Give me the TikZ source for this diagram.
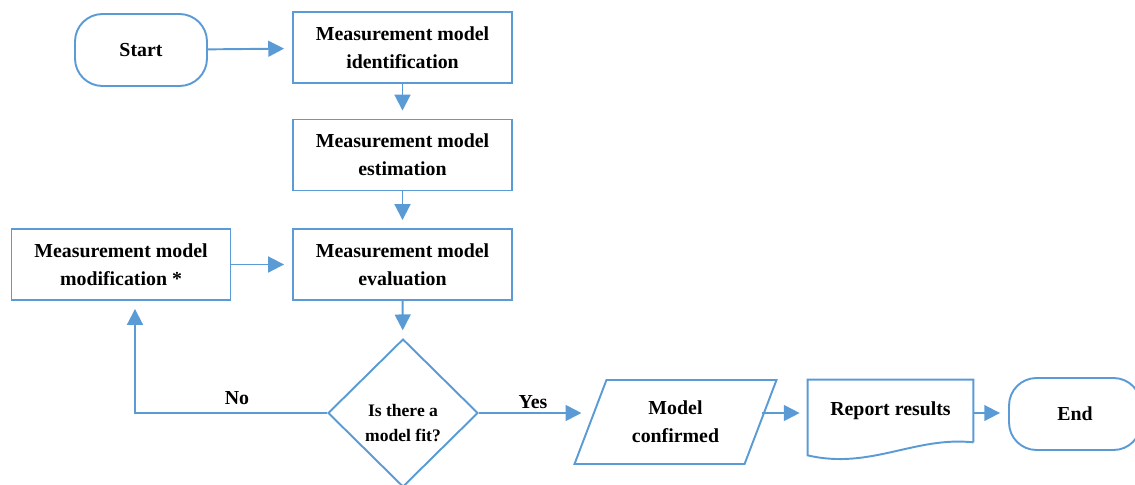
\documentclass[tikz,border=0pt]{standalone}
\usepackage{fontspec}
\setmainfont{Liberation Serif}
\usetikzlibrary{shapes.geometric,arrows.meta,positioning,calc}
\definecolor{flowblue}{HTML}{5B9BD5}

\tikzset{
  every node/.style={font=\bfseries\fontsize{11.3}{16}\selectfont, align=center},
  flowline/.style={draw=flowblue, line width=1.1pt},
  box/.style={flowline, minimum width=4.38cm, minimum height=1.42cm, inner sep=2pt},
  term/.style={flowline, rounded corners=0.55cm, minimum width=2.64cm, minimum height=1.44cm},
  decision/.style={flowline, diamond, minimum width=3cm, minimum height=2.96cm, inner sep=0pt},
  inout/.style={flowline, trapezium, trapezium left angle=67, trapezium right angle=113,
    trapezium stretches=true, minimum width=4.06cm, minimum height=1.68cm},
  flow/.style={flowline, -{Triangle[length=9pt,width=9pt]}, shorten >=0.16cm},
}

\begin{document}
\begin{tikzpicture}[x=0.02cm, y=-0.02cm]
  \useasboundingbox (0,0) rectangle (1135,484);

  \node[term] (start) at (141,50) {Start};
  \node[box] (ident) at (402.5,47.5) {Measurement model\\identification};
  \node[box] (estim) at (402.5,155) {Measurement model\\estimation};
  \node[box] (eval) at (402.5,264.5) {Measurement model\\evaluation};
  \node[box] (modif) at (121,264.5) {Measurement model\\modification *};
  \node[decision] (fit) at (403,413) {};
  \node (fitq) at (403,423) [font=\bfseries\fontsize{10}{14}\selectfont] {Is there a\\model fit?};
  \node[inout] (confirmed) at (675.5,422) {Model\\confirmed};
  \node (report) at (890.5,411) [minimum width=3.3cm, minimum height=1.24cm] {Report results};
  \node[term] (stop) at (1075,414) {End};
  \coordinate (back) at (135,413);

  % document shape for the report
  \draw[flowline] (report.south east) -- (report.north east) -- (report.north west)
    -- ($(report.south west)+(0,13)$) .. controls (870,470) and (915,436) .. (report.south east);

  \draw[flow] (start) -- (ident);
  \draw[flow] (ident) -- (estim);
  \draw[flow] (estim) -- (eval);
  \draw[flow] (eval) -- (fit);
  \draw[flow] (modif) -- (eval);

  \draw[flow] (fit.west) -- (back) -- (back |- modif.south);
  \node (no) at (237,398) {No};

  \draw[flow] (fit.east) -- (fit.east -| confirmed.west);
  \node (yes) at (533,402) {Yes};
  \draw[flow] (fit.east -| confirmed.east) -- (fit.east -| report.west);
  \draw[flow] (fit.east -| report.east) -- (fit.east -| stop.west);
\end{tikzpicture}
\end{document}
